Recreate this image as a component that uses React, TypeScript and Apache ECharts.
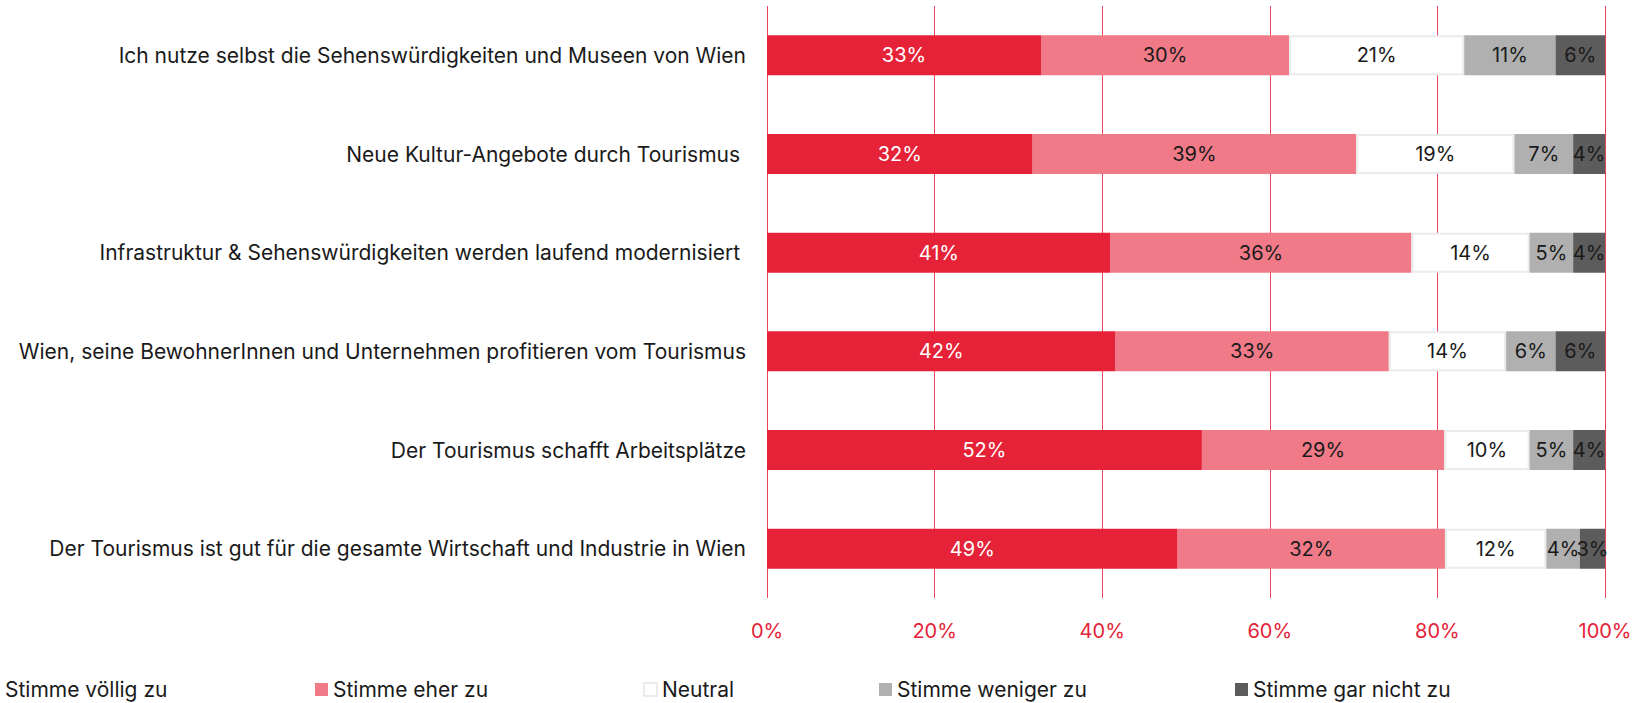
import React, { useEffect, useRef } from "react";
import * as echarts from "echarts";

const categories = [
  "Ich nutze selbst die Sehenswürdigkeiten und Museen von Wien",
  "Neue Kultur-Angebote durch Tourismus ",
  "Infrastruktur & Sehenswürdigkeiten werden laufend modernisiert ",
  "Wien, seine BewohnerInnen und Unternehmen profitieren vom Tourismus",
  "Der Tourismus schafft Arbeitsplätze",
  "Der Tourismus ist gut für die gesamte Wirtschaft und Industrie in Wien",
];

const seriesNames = [
  "Stimme völlig zu",
  "Stimme eher zu",
  "Neutral",
  "Stimme weniger zu",
  "Stimme gar nicht zu",
];

const voelligZu = [32.7, 31.7, 41.0, 41.6, 51.9, 49.0];
const eherZu = [29.6, 38.6, 35.9, 32.6, 28.9, 31.9];
const neutral = [20.9, 18.9, 14.1, 14.0, 10.2, 12.1];
const wenigerZu = [10.9, 7.0, 5.2, 5.9, 5.2, 4.0];
const garNichtZu = [5.9, 3.8, 3.8, 5.9, 3.8, 3.0];

const xTicks = [0, 20, 40, 60, 80, 100];

const FONT = "Inter";

export default function App() {
  const ref = useRef<HTMLDivElement>(null);

  useEffect(() => {
    if (!ref.current) return;
    const chart = echarts.init(ref.current, undefined, { renderer: "svg" });
    const values = [voelligZu, eherZu, neutral, wenigerZu, garNichtZu];
    const colors = ["#E52238", "#F07A87", "#FFFFFF", "#B0B0B0", "#5C5C5C"];
    const labelColors = ["#FFFFFF", "#1A1A1A", "#1A1A1A", "#1A1A1A", "#1A1A1A"];
    const legendLefts = [-13, 315, 643, 879, 1235];

    const series = seriesNames.map((name, i) => ({
      name,
      type: "bar",
      stack: "total",
      barWidth: 40,
      data: values[i],
      itemStyle: {
        color: colors[i],
        borderColor: i === 2 ? "#EBEBEB" : colors[i],
        borderWidth: i === 2 ? 2 : 0,
      },
      label: {
        show: true,
        position: "inside",
        color: labelColors[i],
        fontFamily: FONT,
        fontSize: 20,
        formatter: (p: any) => Math.round(p.value) + "%",
      },
    }));

    chart.setOption({
      animation: false,
      textStyle: { fontFamily: FONT },
      legend: seriesNames.map((name, i) => ({
        data: [name],
        left: legendLefts[i],
        top: 679,
        itemWidth: 13,
        itemHeight: 13,
        itemGap: 5,
        icon: "rect",
        textStyle: { fontFamily: FONT, fontSize: 21, color: "#1A1A1A", padding: [0, 0, 0, 0] },
        padding: 0,
      })),
      grid: { left: 767, right: 44, top: 6, bottom: 105, containLabel: false },
      xAxis: {
        type: "value",
        min: 0,
        max: 100,
        interval: 20,
        axisLine: { show: false },
        axisTick: { show: false },
        splitLine: { show: true, lineStyle: { color: "#E8465A", width: 1 } },
        axisLabel: {
          color: "#E52238",
          fontFamily: FONT,
          fontSize: 20,
          margin: 23,
          formatter: (v: number) => (xTicks.includes(v) ? v + "%" : ""),
        },
      },
      yAxis: {
        type: "category",
        inverse: true,
        data: categories,
        axisLine: { show: false },
        axisTick: { show: false },
        axisLabel: { color: "#1A1A1A", fontFamily: FONT, fontSize: 21, margin: 21 },
      },
      series,
    });
    return () => chart.dispose();
  }, []);

  return (
    <div
      ref={ref}
      style={{ position: "fixed", left: 0, top: 0, width: 1649, height: 703, background: "#fff" }}
    />
  );
}
